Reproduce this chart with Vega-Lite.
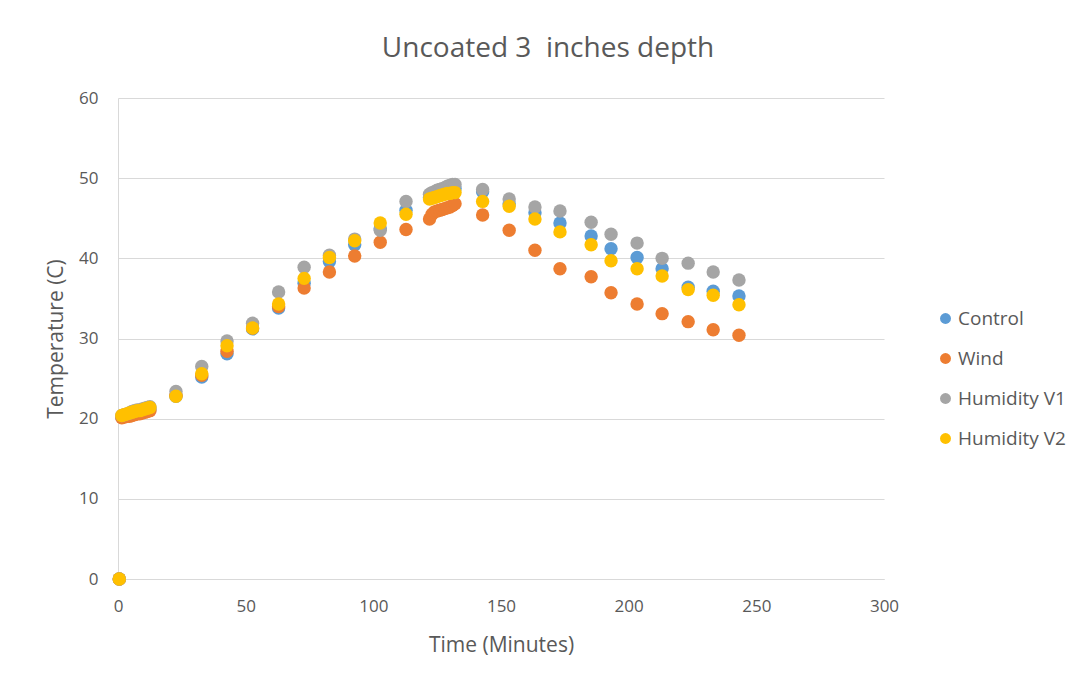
{
  "$schema": "https://vega.github.io/schema/vega-lite/v6.json",
  "width": 766,
  "height": 481,
  "autosize": {"type": "none"},
  "padding": {"left": 118, "top": 98, "right": 201, "bottom": 103},
  "background": "white",
  "title": {"text": "Uncoated 3\u00a0 inches depth", "fontSize": 28, "font": "Open Sans", "fontWeight": "normal", "color": "#595959", "anchor": "middle", "dx": 47, "offset": 26},
  "data": {"values": [
    {"series": "Control", "t": 0.5, "temp": 0},
    {"series": "Control", "t": 1.5, "temp": 20.2},
    {"series": "Control", "t": 2.5, "temp": 20.3},
    {"series": "Control", "t": 3.5, "temp": 20.5},
    {"series": "Control", "t": 4.5, "temp": 20.6},
    {"series": "Control", "t": 5.5, "temp": 20.7},
    {"series": "Control", "t": 6.5, "temp": 20.8},
    {"series": "Control", "t": 7.5, "temp": 20.9},
    {"series": "Control", "t": 8.5, "temp": 20.9},
    {"series": "Control", "t": 9.5, "temp": 21.0},
    {"series": "Control", "t": 10.5, "temp": 21.1},
    {"series": "Control", "t": 11.5, "temp": 21.2},
    {"series": "Control", "t": 12.5, "temp": 21.2},
    {"series": "Control", "t": 22.7, "temp": 22.8},
    {"series": "Control", "t": 32.8, "temp": 25.2},
    {"series": "Control", "t": 42.7, "temp": 28.1},
    {"series": "Control", "t": 52.7, "temp": 31.2},
    {"series": "Control", "t": 62.9, "temp": 33.8},
    {"series": "Control", "t": 72.9, "temp": 36.9},
    {"series": "Control", "t": 82.8, "temp": 39.6},
    {"series": "Control", "t": 92.7, "temp": 41.7},
    {"series": "Control", "t": 102.7, "temp": 43.7},
    {"series": "Control", "t": 112.8, "temp": 46.0},
    {"series": "Control", "t": 122, "temp": 47.6},
    {"series": "Control", "t": 123, "temp": 47.8},
    {"series": "Control", "t": 124, "temp": 47.9},
    {"series": "Control", "t": 125, "temp": 48.0},
    {"series": "Control", "t": 126, "temp": 48.1},
    {"series": "Control", "t": 127, "temp": 48.2},
    {"series": "Control", "t": 128, "temp": 48.3},
    {"series": "Control", "t": 129, "temp": 48.4},
    {"series": "Control", "t": 130, "temp": 48.5},
    {"series": "Control", "t": 131, "temp": 48.6},
    {"series": "Control", "t": 132, "temp": 48.7},
    {"series": "Control", "t": 142.8, "temp": 48.3},
    {"series": "Control", "t": 153.2, "temp": 46.8},
    {"series": "Control", "t": 163.3, "temp": 45.7},
    {"series": "Control", "t": 173.1, "temp": 44.4},
    {"series": "Control", "t": 185.3, "temp": 42.8},
    {"series": "Control", "t": 193.1, "temp": 41.2},
    {"series": "Control", "t": 203.3, "temp": 40.1},
    {"series": "Control", "t": 213.1, "temp": 38.7},
    {"series": "Control", "t": 223.3, "temp": 36.4},
    {"series": "Control", "t": 233.1, "temp": 35.9},
    {"series": "Control", "t": 243.2, "temp": 35.3},
    {"series": "Wind", "t": 0.5, "temp": 0},
    {"series": "Wind", "t": 1.5, "temp": 20.1},
    {"series": "Wind", "t": 2.5, "temp": 20.2},
    {"series": "Wind", "t": 3.5, "temp": 20.3},
    {"series": "Wind", "t": 4.5, "temp": 20.3},
    {"series": "Wind", "t": 5.5, "temp": 20.4},
    {"series": "Wind", "t": 6.5, "temp": 20.5},
    {"series": "Wind", "t": 7.5, "temp": 20.6},
    {"series": "Wind", "t": 8.5, "temp": 20.6},
    {"series": "Wind", "t": 9.5, "temp": 20.7},
    {"series": "Wind", "t": 10.5, "temp": 20.8},
    {"series": "Wind", "t": 11.5, "temp": 20.9},
    {"series": "Wind", "t": 12.5, "temp": 21.0},
    {"series": "Wind", "t": 22.7, "temp": 22.9},
    {"series": "Wind", "t": 32.8, "temp": 25.4},
    {"series": "Wind", "t": 42.7, "temp": 28.4},
    {"series": "Wind", "t": 52.7, "temp": 31.3},
    {"series": "Wind", "t": 62.9, "temp": 34.0},
    {"series": "Wind", "t": 72.9, "temp": 36.3},
    {"series": "Wind", "t": 82.8, "temp": 38.3},
    {"series": "Wind", "t": 92.7, "temp": 40.3},
    {"series": "Wind", "t": 102.7, "temp": 42.0},
    {"series": "Wind", "t": 112.8, "temp": 43.6},
    {"series": "Wind", "t": 122, "temp": 44.9},
    {"series": "Wind", "t": 123, "temp": 45.5},
    {"series": "Wind", "t": 124, "temp": 45.8},
    {"series": "Wind", "t": 125, "temp": 45.9},
    {"series": "Wind", "t": 126, "temp": 46.0},
    {"series": "Wind", "t": 127, "temp": 46.1},
    {"series": "Wind", "t": 128, "temp": 46.2},
    {"series": "Wind", "t": 129, "temp": 46.3},
    {"series": "Wind", "t": 130, "temp": 46.4},
    {"series": "Wind", "t": 131, "temp": 46.6},
    {"series": "Wind", "t": 132, "temp": 46.8},
    {"series": "Wind", "t": 142.8, "temp": 45.4},
    {"series": "Wind", "t": 153.2, "temp": 43.5},
    {"series": "Wind", "t": 163.3, "temp": 41.0},
    {"series": "Wind", "t": 173.1, "temp": 38.7},
    {"series": "Wind", "t": 185.3, "temp": 37.7},
    {"series": "Wind", "t": 193.1, "temp": 35.7},
    {"series": "Wind", "t": 203.3, "temp": 34.3},
    {"series": "Wind", "t": 213.1, "temp": 33.1},
    {"series": "Wind", "t": 223.3, "temp": 32.1},
    {"series": "Wind", "t": 233.1, "temp": 31.1},
    {"series": "Wind", "t": 243.2, "temp": 30.4},
    {"series": "Humidity V1", "t": 0.5, "temp": 0},
    {"series": "Humidity V1", "t": 1.5, "temp": 20.4},
    {"series": "Humidity V1", "t": 2.5, "temp": 20.5},
    {"series": "Humidity V1", "t": 3.5, "temp": 20.6},
    {"series": "Humidity V1", "t": 4.5, "temp": 20.7},
    {"series": "Humidity V1", "t": 5.5, "temp": 20.9},
    {"series": "Humidity V1", "t": 6.5, "temp": 21.0},
    {"series": "Humidity V1", "t": 7.5, "temp": 21.1},
    {"series": "Humidity V1", "t": 8.5, "temp": 21.1},
    {"series": "Humidity V1", "t": 9.5, "temp": 21.2},
    {"series": "Humidity V1", "t": 10.5, "temp": 21.3},
    {"series": "Humidity V1", "t": 11.5, "temp": 21.4},
    {"series": "Humidity V1", "t": 12.5, "temp": 21.5},
    {"series": "Humidity V1", "t": 22.7, "temp": 23.4},
    {"series": "Humidity V1", "t": 32.8, "temp": 26.5},
    {"series": "Humidity V1", "t": 42.7, "temp": 29.7},
    {"series": "Humidity V1", "t": 52.7, "temp": 31.9},
    {"series": "Humidity V1", "t": 62.9, "temp": 35.8},
    {"series": "Humidity V1", "t": 72.9, "temp": 38.9},
    {"series": "Humidity V1", "t": 82.8, "temp": 40.4},
    {"series": "Humidity V1", "t": 92.7, "temp": 42.4},
    {"series": "Humidity V1", "t": 102.7, "temp": 43.5},
    {"series": "Humidity V1", "t": 112.8, "temp": 47.1},
    {"series": "Humidity V1", "t": 122, "temp": 48.0},
    {"series": "Humidity V1", "t": 123, "temp": 48.2},
    {"series": "Humidity V1", "t": 124, "temp": 48.3},
    {"series": "Humidity V1", "t": 125, "temp": 48.5},
    {"series": "Humidity V1", "t": 126, "temp": 48.6},
    {"series": "Humidity V1", "t": 127, "temp": 48.7},
    {"series": "Humidity V1", "t": 128, "temp": 48.8},
    {"series": "Humidity V1", "t": 129, "temp": 49.0},
    {"series": "Humidity V1", "t": 130, "temp": 49.1},
    {"series": "Humidity V1", "t": 131, "temp": 49.2},
    {"series": "Humidity V1", "t": 132, "temp": 49.2},
    {"series": "Humidity V1", "t": 142.8, "temp": 48.6},
    {"series": "Humidity V1", "t": 153.2, "temp": 47.4},
    {"series": "Humidity V1", "t": 163.3, "temp": 46.4},
    {"series": "Humidity V1", "t": 173.1, "temp": 45.9},
    {"series": "Humidity V1", "t": 185.3, "temp": 44.5},
    {"series": "Humidity V1", "t": 193.1, "temp": 43.0},
    {"series": "Humidity V1", "t": 203.3, "temp": 41.9},
    {"series": "Humidity V1", "t": 213.1, "temp": 40.0},
    {"series": "Humidity V1", "t": 223.3, "temp": 39.4},
    {"series": "Humidity V1", "t": 233.1, "temp": 38.3},
    {"series": "Humidity V1", "t": 243.2, "temp": 37.3},
    {"series": "Humidity V2", "t": 0.5, "temp": 0},
    {"series": "Humidity V2", "t": 1.5, "temp": 20.4},
    {"series": "Humidity V2", "t": 2.5, "temp": 20.5},
    {"series": "Humidity V2", "t": 3.5, "temp": 20.6},
    {"series": "Humidity V2", "t": 4.5, "temp": 20.7},
    {"series": "Humidity V2", "t": 5.5, "temp": 20.8},
    {"series": "Humidity V2", "t": 6.5, "temp": 20.9},
    {"series": "Humidity V2", "t": 7.5, "temp": 21.0},
    {"series": "Humidity V2", "t": 8.5, "temp": 21.0},
    {"series": "Humidity V2", "t": 9.5, "temp": 21.1},
    {"series": "Humidity V2", "t": 10.5, "temp": 21.2},
    {"series": "Humidity V2", "t": 11.5, "temp": 21.3},
    {"series": "Humidity V2", "t": 12.5, "temp": 21.4},
    {"series": "Humidity V2", "t": 22.7, "temp": 22.8},
    {"series": "Humidity V2", "t": 32.8, "temp": 25.6},
    {"series": "Humidity V2", "t": 42.7, "temp": 29.1},
    {"series": "Humidity V2", "t": 52.7, "temp": 31.3},
    {"series": "Humidity V2", "t": 62.9, "temp": 34.3},
    {"series": "Humidity V2", "t": 72.9, "temp": 37.5},
    {"series": "Humidity V2", "t": 82.8, "temp": 40.1},
    {"series": "Humidity V2", "t": 92.7, "temp": 42.2},
    {"series": "Humidity V2", "t": 102.7, "temp": 44.4},
    {"series": "Humidity V2", "t": 112.8, "temp": 45.5},
    {"series": "Humidity V2", "t": 122, "temp": 47.4},
    {"series": "Humidity V2", "t": 123, "temp": 47.5},
    {"series": "Humidity V2", "t": 124, "temp": 47.6},
    {"series": "Humidity V2", "t": 125, "temp": 47.7},
    {"series": "Humidity V2", "t": 126, "temp": 47.8},
    {"series": "Humidity V2", "t": 127, "temp": 47.9},
    {"series": "Humidity V2", "t": 128, "temp": 48.0},
    {"series": "Humidity V2", "t": 129, "temp": 48.1},
    {"series": "Humidity V2", "t": 130, "temp": 48.1},
    {"series": "Humidity V2", "t": 131, "temp": 48.2},
    {"series": "Humidity V2", "t": 132, "temp": 48.2},
    {"series": "Humidity V2", "t": 142.8, "temp": 47.1},
    {"series": "Humidity V2", "t": 153.2, "temp": 46.5},
    {"series": "Humidity V2", "t": 163.3, "temp": 44.9},
    {"series": "Humidity V2", "t": 173.1, "temp": 43.3},
    {"series": "Humidity V2", "t": 185.3, "temp": 41.7},
    {"series": "Humidity V2", "t": 193.1, "temp": 39.7},
    {"series": "Humidity V2", "t": 203.3, "temp": 38.7},
    {"series": "Humidity V2", "t": 213.1, "temp": 37.8},
    {"series": "Humidity V2", "t": 223.3, "temp": 36.1},
    {"series": "Humidity V2", "t": 233.1, "temp": 35.4},
    {"series": "Humidity V2", "t": 243.2, "temp": 34.2}
  ]},
  "mark": {"type": "point", "filled": true, "opacity": 1, "size": 180},
  "encoding": {
    "x": {
      "field": "t", "type": "quantitative",
      "scale": {"domain": [0, 300], "nice": false, "zero": true},
      "axis": {"title": "Time (Minutes)", "values": [0, 50, 100, 150, 200, 250, 300], "grid": false, "ticks": false, "labelFlush": false, "domainColor": "#d9d9d9", "domainWidth": 1, "labelPadding": 19, "labelFontSize": 17, "labelColor": "#595959", "labelFont": "Open Sans", "titleFont": "Open Sans", "titleFontSize": 21, "titleFontWeight": "normal", "titleColor": "#595959", "titlePadding": 20}
    },
    "y": {
      "field": "temp", "type": "quantitative",
      "scale": {"domain": [0, 60], "nice": false},
      "axis": {"title": "Temperature (C)", "values": [0, 10, 20, 30, 40, 50, 60], "grid": true, "gridColor": "#d9d9d9", "gridWidth": 1, "ticks": false, "labelFlush": false, "domainColor": "#d9d9d9", "domainWidth": 1, "labelPadding": 20, "labelFontSize": 17, "labelColor": "#595959", "labelFont": "Open Sans", "titleFont": "Open Sans", "titleFontSize": 21, "titleFontWeight": "normal", "titleColor": "#595959", "titlePadding": 12}
    },
    "color": {
      "field": "series", "type": "nominal",
      "scale": {"domain": ["Control", "Wind", "Humidity V1", "Humidity V2"], "range": ["#5B9BD5", "#ED7D31", "#A5A5A5", "#FFC000"]},
      "legend": {"title": null, "orient": "none", "legendX": 818, "legendY": 211, "padding": 0, "symbolType": "circle", "symbolSize": 120, "symbolStrokeWidth": 0, "labelFontSize": 19, "labelFont": "Open Sans", "labelColor": "#595959", "labelOffset": 3, "rowPadding": 20}
    }
  },
  "config": {"view": {"stroke": null}}
}
